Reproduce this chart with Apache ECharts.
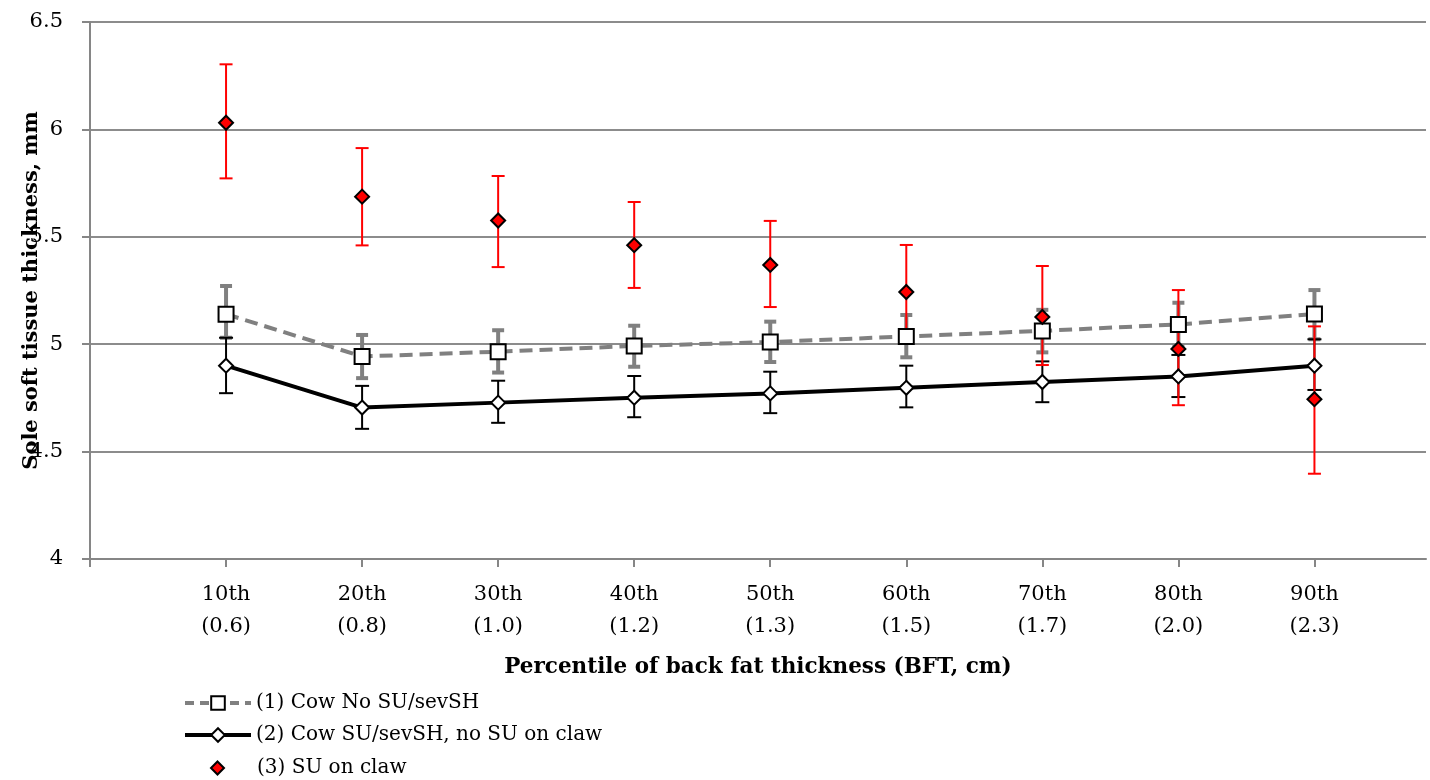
<!DOCTYPE html>
<html><head><meta charset="utf-8">
<script src="https://cdn.jsdelivr.net/npm/echarts@6/dist/echarts.min.js"></script>
<style>html,body{margin:0;padding:0;background:#fff}#c{width:1430px;height:780px}</style>
</head><body><div id="c"></div>
<script>
const categories = ['10th','20th','30th','40th','50th','60th','70th','80th','90th'];
const bftLabels = ['(0.6)','(0.8)','(1.0)','(1.2)','(1.3)','(1.5)','(1.7)','(2.0)','(2.3)'];
const yTicks = [4, 4.5, 5, 5.5, 6, 6.5];
const seriesNames = ['(1) Cow No SU/sevSH', '(2) Cow SU/sevSH, no SU on claw', '(3) SU on claw'];
const s1 = [5.140, 4.943, 4.965, 4.992, 5.010, 5.036, 5.062, 5.092, 5.141];
const s1Lo = [5.030, 4.842, 4.868, 4.895, 4.917, 4.939, 4.962, 4.990, 5.023];
const s1Hi = [5.271, 5.043, 5.065, 5.086, 5.105, 5.136, 5.160, 5.193, 5.252];
const s2 = [4.900, 4.705, 4.728, 4.751, 4.771, 4.797, 4.824, 4.850, 4.900];
const s2Lo = [4.772, 4.606, 4.634, 4.660, 4.679, 4.706, 4.730, 4.754, 4.787];
const s2Hi = [5.030, 4.806, 4.830, 4.852, 4.872, 4.900, 4.920, 4.950, 5.023];
const s3 = [6.031, 5.687, 5.576, 5.461, 5.369, 5.243, 5.127, 4.978, 4.744];
const s3Lo = [5.772, 5.460, 5.359, 5.262, 5.173, 5.020, 4.903, 4.716, 4.397];
const s3Hi = [6.303, 5.913, 5.783, 5.662, 5.574, 5.462, 5.364, 5.252, 5.083];

const xPos = categories.map((c, i) => i + 1);
const pts = arr => arr.map((v, i) => [xPos[i], v]);
const errs = (lo, hi) => lo.map((v, i) => [xPos[i], v, hi[i]]);

function errRender(color, width, capHalf) {
  return function (params, api) {
    const x = api.value(0);
    const a = api.coord([x, api.value(1)]);
    const b = api.coord([x, api.value(2)]);
    const st = { stroke: color, lineWidth: width, fill: null };
    return { type: 'group', children: [
      { type: 'line', shape: { x1: a[0], y1: a[1], x2: b[0], y2: b[1] }, style: st },
      { type: 'line', shape: { x1: a[0] - capHalf, y1: a[1], x2: a[0] + capHalf, y2: a[1] }, style: st },
      { type: 'line', shape: { x1: b[0] - capHalf, y1: b[1], x2: b[0] + capHalf, y2: b[1] }, style: st }
    ]};
  };
}

const FONT = 'DejaVu Serif';
const legText = { fontFamily: FONT, fontSize: 20, color: '#000', lineHeight: 22 };
const chart = echarts.init(document.getElementById('c'), null, { renderer: 'canvas' });
chart.setOption({
  animation: false,
  backgroundColor: '#fff',
  grid: { left: 90, right: 4, top: 22, bottom: 221, containLabel: false, outerBoundsMode: 'none' },
  xAxis: {
    type: 'value', min: 0, max: 9.82, interval: 1,
    name: 'Percentile of back fat thickness (BFT, cm)',
    nameLocation: 'middle', nameGap: 97, nameMoveOverlap: false,
    nameTextStyle: { fontFamily: FONT, fontWeight: 'bold', fontSize: 21.5, color: '#000' },
    axisLine: { onZero: false, lineStyle: { color: '#868686', width: 2 } },
    axisTick: { show: true, length: 8, lineStyle: { color: '#868686', width: 2 }, customValues: [0,1,2,3,4,5,6,7,8,9] },
    axisLabel: {
      customValues: xPos,
      margin: 20, fontFamily: FONT, fontSize: 21, color: '#000', lineHeight: 32,
      formatter: v => { const i = Math.round(v) - 1; return (i >= 0 && i < categories.length && Math.abs(v - Math.round(v)) < 1e-6) ? categories[i] + '\n' + bftLabels[i] : ''; }
    },
    splitLine: { show: false }
  },
  yAxis: {
    type: 'value', min: yTicks[0], max: yTicks[yTicks.length - 1], interval: 0.5,
    name: 'Sole soft tissue thickness, mm',
    nameLocation: 'middle', nameGap: 48, nameRotate: 90, nameMoveOverlap: false,
    nameTextStyle: { fontFamily: FONT, fontWeight: 'bold', fontSize: 21, color: '#000' },
    axisLine: { show: true, lineStyle: { color: '#868686', width: 2 } },
    axisTick: { show: true, length: 8, lineStyle: { color: '#868686', width: 2 } },
    axisLabel: { margin: 27, fontFamily: FONT, fontSize: 21, color: '#000' },
    splitLine: { show: true, lineStyle: { color: '#8c8c8c', width: 2 } }
  },
  legend: [
    { orient: 'vertical', left: 183, top: 692, padding: 0, itemWidth: 66, itemHeight: 17, itemGap: 0,
      textStyle: legText,
      data: [{ name: seriesNames[0], lineStyle: { width: 4, color: '#808080', type: [9, 6] } }] },
    { orient: 'vertical', left: 183, top: 724, padding: 0, itemWidth: 66, itemHeight: 17, itemGap: 0,
      textStyle: legText,
      data: [{ name: seriesNames[1], lineStyle: { width: 4, color: '#000' } }] },
    { orient: 'vertical', left: 210, top: 757, padding: 0, itemWidth: 13, itemHeight: 13, itemGap: 0,
      textStyle: Object.assign({}, legText, { padding: [0, 0, 0, 28] }),
      data: [{ name: seriesNames[2], icon: 'diamond' }] }
  ],
  series: [
    { type: 'custom', name: 'err1', z: 1, silent: true, renderItem: errRender('#808080', 4, 6), data: errs(s1Lo, s1Hi) },
    { type: 'custom', name: 'err2', z: 1, silent: true, renderItem: errRender('#000000', 2, 7), data: errs(s2Lo, s2Hi) },
    { type: 'custom', name: 'err3', z: 2, silent: true, renderItem: errRender('#ff0000', 2, 6.5), data: errs(s3Lo, s3Hi) },
    { type: 'line', name: seriesNames[0], z: 3, data: pts(s1),
      symbol: 'rect', symbolSize: 15,
      lineStyle: { color: '#808080', width: 4, type: [13, 7] },
      itemStyle: { color: '#ffffff', borderColor: '#000', borderWidth: 2 } },
    { type: 'line', name: seriesNames[1], z: 3, data: pts(s2),
      symbol: 'diamond', symbolSize: 14,
      lineStyle: { color: '#000', width: 4 },
      itemStyle: { color: '#ffffff', borderColor: '#000', borderWidth: 2 } },
    { type: 'scatter', name: seriesNames[2], z: 4, data: pts(s3),
      symbol: 'diamond', symbolSize: 14,
      itemStyle: { color: '#ff0000', borderColor: '#000', borderWidth: 2, opacity: 1 } }
  ]
});
</script></body></html>
